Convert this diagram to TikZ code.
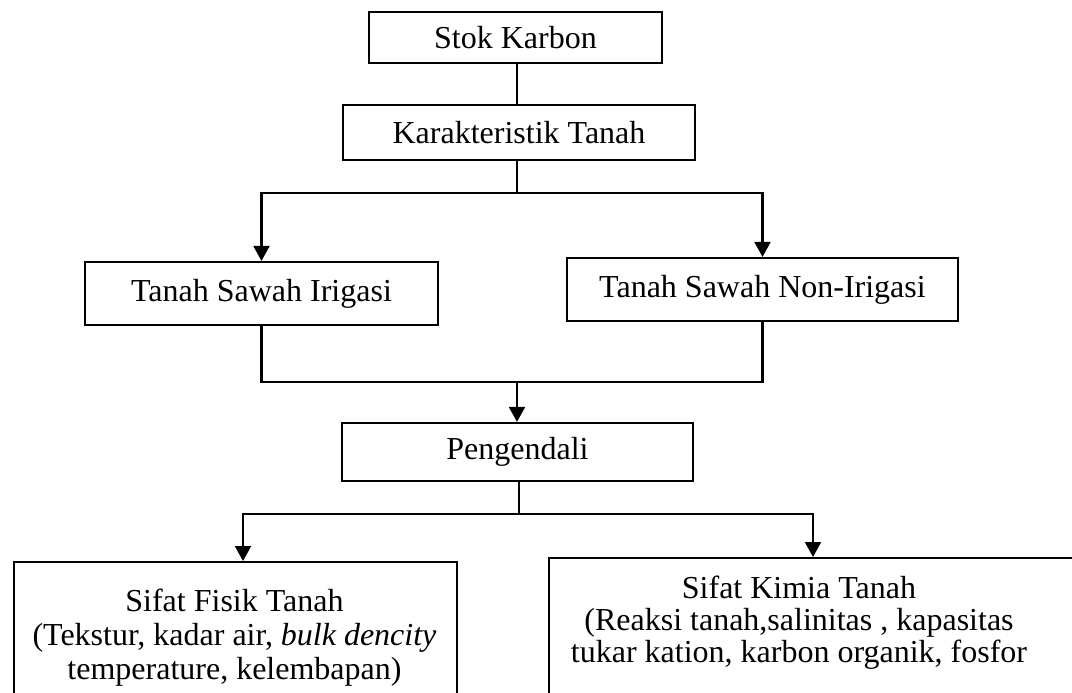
\documentclass[tikz,border=0pt]{standalone}
\usepackage{fontspec}
\setmainfont{Liberation Serif}
\usetikzlibrary{arrows.meta}
\begin{document}
\begin{tikzpicture}[x=1pt,y=-1pt,
  box/.style={draw=black,line width=2.2pt,inner sep=0pt,font=\fontsize{32}{34}\selectfont},
  conn/.style={draw=black,line width=2.2pt},
  arr/.style={conn,-{Triangle[width=16pt,length=15pt]}},
  txt/.style={inner sep=0pt,align=center,anchor=north}]
\useasboundingbox (0,0) rectangle (1072,693);
\clip (0,0) rectangle (1072,693);
\fill[white] (0,0) rectangle (1072,693);
\node[box,minimum width=293pt,minimum height=51pt] (stok) at (515.5,37.5) {Stok Karbon};
\node[box,minimum width=352pt,minimum height=55pt] (karak) at (519,132.5) {Karakteristik Tanah};
\node[box,minimum width=353pt,minimum height=63pt] (irig) at (261.5,293.5) {Tanah Sawah Irigasi};
\node[box,minimum width=391pt,minimum height=63pt] (nonirig) at (762.5,289.5) {Tanah Sawah Non-Irigasi};
\node[box,minimum width=351pt,minimum height=58pt] (peng) at (517.5,452) {Pengendali};
\node[box,minimum width=443pt,minimum height=200pt,anchor=north west] (fisik) at (13,561) {};
\node[box,minimum width=540pt,minimum height=200pt,anchor=north west] (kimia) at (548,557) {};
\node[txt,font=\fontsize{32}{34}\selectfont] (fisiktxt) at (234.5,588.5) {Sifat Fisik Tanah\\(Tekstur, kadar air, \textit{bulk dencity}\\temperature, kelembapan)};
\node[txt,font=\fontsize{32}{32}\selectfont] (kimiatxt) at (799,575.5) {Sifat Kimia Tanah\\(Reaksi tanah,salinitas , kapasitas\\tukar kation, karbon organik, fosfor};
\coordinate (j1) at (517,193);
\coordinate (j2) at (517,382);
\coordinate (j3) at (519,514);
\coordinate (aL) at (243,514);
\coordinate (aR) at (813,514);
\draw[conn] (stok.south -| j1) -- (karak.north -| j1);
\draw[arr] (karak.south -| j1) |- (irig.north |- j1) -- (irig.north);
\draw[arr] (karak.south -| j1) |- (nonirig.north |- j1) -- (nonirig.north);
\draw[conn] (irig.south) |- (j2);
\draw[conn] (nonirig.south) |- (j2);
\draw[arr] (j2) -- (peng.north -| j2);
\draw[arr] (peng.south -| j3) |- (aL) -- (aL |- fisik.north);
\draw[arr] (peng.south -| j3) |- (aR) -- (aR |- kimia.north);
\end{tikzpicture}
\end{document}
